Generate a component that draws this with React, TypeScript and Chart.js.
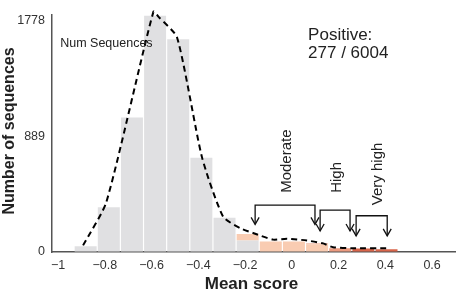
import React, { useEffect, useRef } from "react";
import { Chart, registerables } from "chart.js";

Chart.register(...registerables);

// ---- data ----
const binCenters = [-0.882, -0.783, -0.684, -0.585, -0.486, -0.387, -0.288, -0.189, -0.09, 0.009, 0.108, 0.207, 0.306, 0.405];
const grayCounts = [44, 344, 1032, 1812, 1632, 724, 263, 88, 0, 0, 0, 0, 0, 0];
const moderateCounts = [0, 0, 0, 0, 0, 0, 0, 51, 80, 80, 60, 0, 0, 0];
const highCounts = [0, 0, 0, 0, 0, 0, 0, 0, 0, 0, 6, 29, 0, 0];
const veryHighCounts = [0, 0, 0, 0, 0, 0, 0, 0, 0, 0, 0, 0, 26, 22];

const curveX = [-0.893, -0.794, -0.592, -0.568, -0.491, -0.384, -0.294, -0.221, -0.166, -0.08, -0.02, 0.065, 0.134, 0.176, 0.262, 0.42];
const curveY = [51, 380, 1844, 1800, 1646, 724, 271, 183, 146, 95, 102, 88, 66, 37, 29, 29];

const xTicks = [-1, -0.8, -0.6, -0.4, -0.2, 0, 0.2, 0.4, 0.6];
const yTicks = [0, 889, 1778];
const xMin = -1.026;
const xMax = 0.698;
const yMax = 1822;

const bracketLabels = ["Moderate", "High", "Very high"];
const bracketFrom = [-0.157, 0.121, 0.275];
const bracketTo = [0.099, 0.249, 0.408];
const bracketTop = [359, 322, 278];
const bracketTip = [212, 161, 124];
const labelX = [-0.021, 0.193, 0.37];
const labelBottom = [454, 454, 359];

const legendText = "Num Sequences";
const legendPos = [-0.991, 1602];
const positiveLines = ["Positive:", "277 / 6004"];
const positiveX = 0.0695;
const positiveY = [1663, 1522];

const xTitle = "Mean score";
const yTitle = "Number of sequences";

const FONT = "'Liberation Sans', Arial, Helvetica, sans-serif";

const fmt = (v: number) => {
  const s = Math.abs(v) < 1e-9 ? "0" : String(Math.round(v * 10) / 10);
  return s.replace("-", "\u2212");
};

const annotationPlugin = {
  id: "annotations",
  afterDatasetsDraw(chart: any) {
    const ctx = chart.ctx as CanvasRenderingContext2D;
    const xs = chart.scales.x;
    const ys = chart.scales.y;
    const area = chart.chartArea;
    ctx.save();
    ctx.fillStyle = "#222";
    ctx.textBaseline = "middle";
    // legend text
    ctx.font = `12.5px ${FONT}`;
    ctx.textAlign = "left";
    ctx.fillText(legendText, xs.getPixelForValue(legendPos[0]), ys.getPixelForValue(legendPos[1]));
    // positive text
    ctx.font = `17px ${FONT}`;
    positiveLines.forEach((t, i) => {
      ctx.fillText(t, xs.getPixelForValue(positiveX), ys.getPixelForValue(positiveY[i]));
    });
    // brackets
    ctx.strokeStyle = "#111";
    ctx.lineWidth = 1.3;
    bracketLabels.forEach((lab, i) => {
      const x1 = xs.getPixelForValue(bracketFrom[i]);
      const x2 = xs.getPixelForValue(bracketTo[i]);
      const yt = ys.getPixelForValue(bracketTop[i]);
      const yb = ys.getPixelForValue(bracketTip[i]);
      ctx.beginPath();
      ctx.moveTo(x1, yb);
      ctx.lineTo(x1, yt);
      ctx.lineTo(x2, yt);
      ctx.lineTo(x2, yb);
      ctx.stroke();
      [x1, x2].forEach((ax) => {
        ctx.beginPath();
        ctx.moveTo(ax - 4, yb - 7);
        ctx.lineTo(ax, yb);
        ctx.lineTo(ax + 4, yb - 7);
        ctx.stroke();
      });
      ctx.save();
      ctx.translate(xs.getPixelForValue(labelX[i]), ys.getPixelForValue(labelBottom[i]));
      ctx.rotate(-Math.PI / 2);
      ctx.font = `15px ${FONT}`;
      ctx.textAlign = "left";
      ctx.textBaseline = "middle";
      ctx.fillText(lab, 0, 0);
      ctx.restore();
    });
    // axis titles
    ctx.font = `bold 17px ${FONT}`;
    ctx.textAlign = "center";
    ctx.fillText(xTitle, (area.left + area.right) / 2 - 2, 284);
    ctx.save();
    ctx.translate(10, 131);
    ctx.rotate(-Math.PI / 2);
    ctx.font = `bold 16px ${FONT}`;
    ctx.fillText(yTitle, 0, 0);
    ctx.restore();
    ctx.restore();
  },
};

export default function App() {
  const ref = useRef<HTMLCanvasElement | null>(null);
  useEffect(() => {
    if (!ref.current) return;
    const barDs = (label: string, vals: number[], color: string) => ({
      type: "bar" as const,
      label,
      data: binCenters.map((x, i) => ({ x, y: vals[i] })),
      backgroundColor: color,
      borderWidth: 0,
      barPercentage: 1,
      categoryPercentage: 0.95,
      order: 1,
    });
    const chart = new Chart(ref.current, {
      type: "bar",
      data: {
        datasets: [
          barDs("All", grayCounts, "#e0e0e2"),
          barDs("Moderate", moderateCounts, "#f9ccb2"),
          barDs("High", highCounts, "#eb9a7f"),
          barDs("Very high", veryHighCounts, "#d9654a"),
          {
            type: "line" as const,
            label: "Num Sequences",
            data: curveX.map((x, i) => ({ x, y: curveY[i] })),
            borderColor: "#000",
            borderWidth: 2,
            borderDash: [6, 4],
            pointRadius: 0,
            tension: 0.2,
            fill: false,
            clip: false,
            order: 0,
            stack: "curve",
          } as any,
        ],
      },
      options: {
        animation: false,
        responsive: true,
        maintainAspectRatio: false,
        layout: { padding: { left: 0, right: 3, top: 3, bottom: 0 } },
        plugins: { legend: { display: false }, tooltip: { enabled: false } },
        scales: {
          x: {
            type: "linear",
            min: xMin,
            max: xMax,
            stacked: true,
            offset: false,
            grid: { display: true, color: "rgba(0,0,0,0)", drawTicks: false },
            border: { display: true, color: "#555", width: 1.5 },
            afterBuildTicks: (s: any) => {
              s.ticks = xTicks.map((v) => ({ value: v }));
            },
            afterFit: (s: any) => {
              s.height = 39;
            },
            ticks: {
              autoSkip: false,
              maxRotation: 0,
              padding: 6,
              color: "#333",
              font: { family: FONT, size: 12.5 },
              callback: (v: any) => fmt(Number(v)),
            },
          },
          y: {
            type: "linear",
            min: 0,
            max: yMax,
            stacked: true,
            grid: { display: true, color: "rgba(0,0,0,0)", drawTicks: false },
            border: { display: true, color: "#555", width: 1.5 },
            afterBuildTicks: (s: any) => {
              s.ticks = yTicks.map((v) => ({ value: v }));
            },
            afterFit: (s: any) => {
              s.width = 52;
            },
            ticks: {
              padding: 7,
              color: "#333",
              font: { family: FONT, size: 12.5 },
              callback: (v: any) => String(v),
            },
          },
        },
      },
      plugins: [annotationPlugin],
    });
    return () => chart.destroy();
  }, []);
  return (
    <div style={{ position: "fixed", left: 0, top: 0, width: 458, height: 291, background: "#fff" }}>
      <canvas ref={ref} />
    </div>
  );
}
